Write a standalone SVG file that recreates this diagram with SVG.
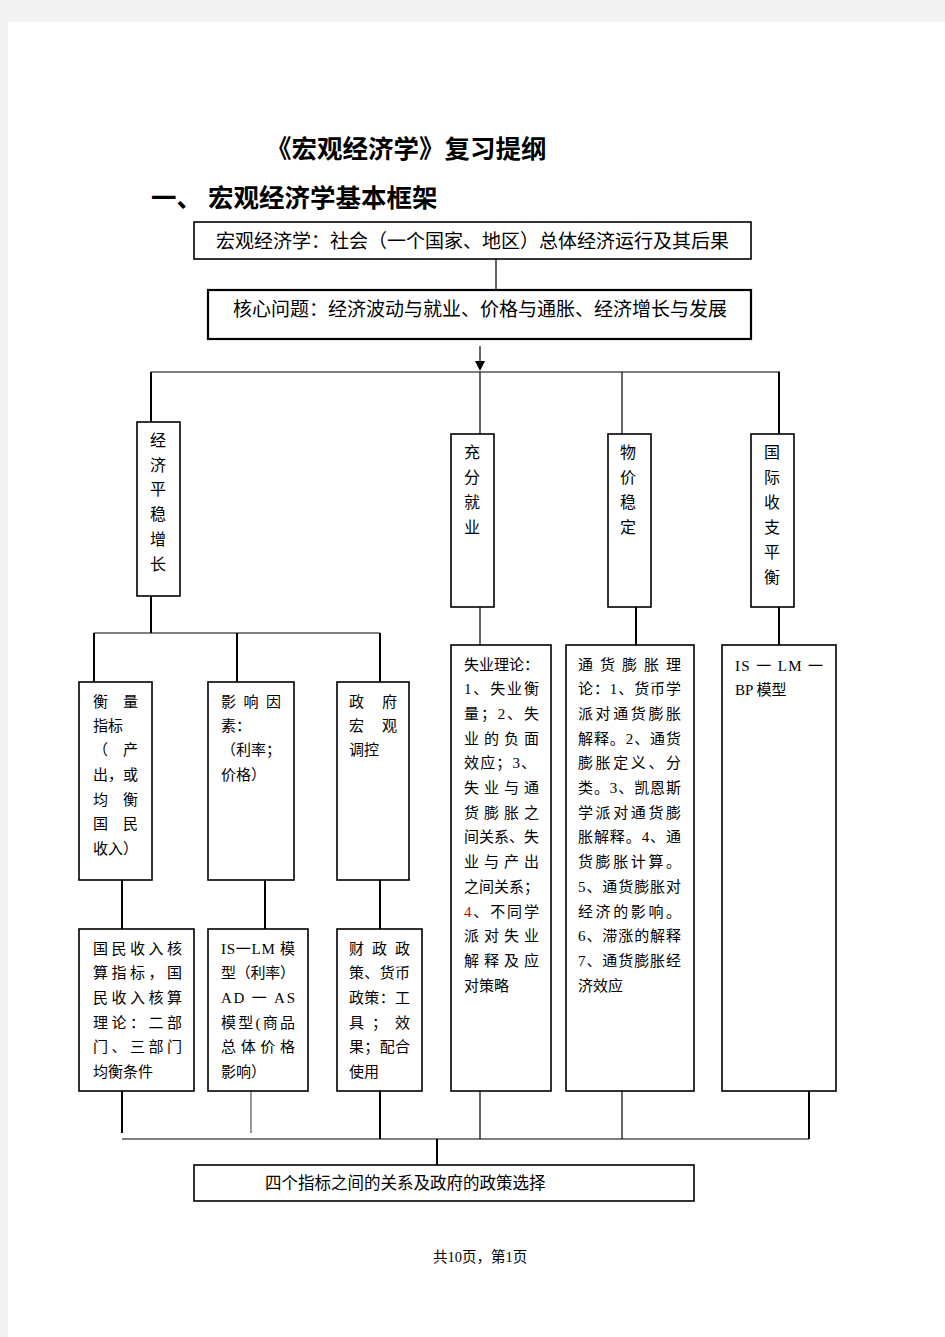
<svg xmlns="http://www.w3.org/2000/svg" width="945" height="1337" viewBox="0 0 945 1337">
<defs>
<style>
.box{fill:#fff;stroke:#000;stroke-width:1.6}
.box2{fill:#fff;stroke:#000;stroke-width:2.2}
.thick{stroke:#000;stroke-width:2;fill:none}
.thin{stroke:#000;stroke-width:1.2;fill:none}
.grey{stroke:#555;stroke-width:1.2;fill:none}
.t{font-family:"Liberation Serif","Noto Sans CJK SC",serif;fill:#000}
.h{font-family:"Liberation Serif","Noto Sans CJK SC",serif;font-weight:bold;fill:#000}
.s15{font-size:15px}
.s16{font-size:16px}
.s19{font-size:19px}
.v{font-size:16px;text-anchor:middle}
.red{fill:#c00000}
</style>
</defs>
<rect x="0" y="0" width="945" height="1337" fill="#f3f3f3"/>
<rect x="8" y="22" width="937" height="1315" fill="#fff"/>

<g id="titles">
<text class="h" x="266" y="158" font-size="25.5">《宏观经济学》复习提纲</text>
<text class="h" x="151" y="207" font-size="25.5">一、</text>
<text class="h" x="208" y="207" font-size="25.5">宏观经济学基本框架</text>
</g>

<g id="connectors">
<line class="thin" x1="496" y1="259" x2="496" y2="290"/>
<line class="thin" x1="480" y1="346" x2="480" y2="362"/>
<polygon points="475,361 485,361 480,371" fill="#000"/>
<line class="thin" x1="151" y1="372" x2="780" y2="372"/>
<line class="thick" x1="151" y1="372" x2="151" y2="422"/>
<line class="thin" x1="480" y1="372" x2="480" y2="434"/>
<line class="thin" x1="622" y1="372" x2="622" y2="434"/>
<line class="thick" x1="779" y1="372" x2="779" y2="434"/>
<line class="thick" x1="151" y1="596" x2="151" y2="633"/>
<line class="thin" x1="94" y1="633" x2="380" y2="633"/>
<line class="thick" x1="94" y1="633" x2="94" y2="682"/>
<line class="thick" x1="237" y1="633" x2="237" y2="682"/>
<line class="thick" x1="380" y1="633" x2="380" y2="682"/>
<line class="thick" x1="122" y1="880" x2="122" y2="929"/>
<line class="thick" x1="265" y1="880" x2="265" y2="929"/>
<line class="thick" x1="380" y1="880" x2="380" y2="929"/>
<line class="thin" x1="480" y1="607" x2="480" y2="645"/>
<line class="thick" x1="636" y1="607" x2="636" y2="645"/>
<line class="thick" x1="779" y1="607" x2="779" y2="645"/>
<line class="thick" x1="122" y1="1091" x2="122" y2="1133"/>
<line class="grey" x1="251" y1="1091" x2="251" y2="1133"/>
<line class="thick" x1="380" y1="1091" x2="380" y2="1139"/>
<line class="thin" x1="480" y1="1091" x2="480" y2="1139"/>
<line class="thin" x1="622" y1="1091" x2="622" y2="1139"/>
<line class="thick" x1="809" y1="1091" x2="809" y2="1139"/>
<line class="thin" x1="122" y1="1139" x2="809" y2="1139" stroke-width="1.6"/>
<line class="thick" x1="437" y1="1139" x2="437" y2="1165"/>
</g>

<g id="node-macro">
<rect class="box" x="194" y="222" width="557" height="37"/>
<text class="t s19" x="216" y="248">宏观经济学：社会（一个国家、地区）总体经济运行及其后果</text>
</g>

<g id="node-core">
<rect class="box2" x="208" y="290" width="543" height="49"/>
<text class="t s19" x="233" y="316">核心问题：经济波动与就业、价格与通胀、经济增长与发展</text>
</g>

<g id="node-growth">
<rect class="box" x="137" y="422" width="43" height="174"/>
<text class="t v" x="158" y="446">经</text>
<text class="t v" x="158" y="471">济</text>
<text class="t v" x="158" y="495">平</text>
<text class="t v" x="158" y="520">稳</text>
<text class="t v" x="158" y="545">增</text>
<text class="t v" x="158" y="570">长</text>
</g>

<g id="node-employment">
<rect class="box" x="451" y="434" width="43" height="173"/>
<text class="t v" x="472" y="458">充</text>
<text class="t v" x="472" y="483">分</text>
<text class="t v" x="472" y="508">就</text>
<text class="t v" x="472" y="533">业</text>
</g>

<g id="node-price">
<rect class="box" x="608" y="434" width="43" height="173"/>
<text class="t v" x="628" y="458">物</text>
<text class="t v" x="628" y="483">价</text>
<text class="t v" x="628" y="508">稳</text>
<text class="t v" x="628" y="533">定</text>
</g>

<g id="node-balance">
<rect class="box" x="751" y="434" width="43" height="173"/>
<text class="t v" x="772" y="458">国</text>
<text class="t v" x="772" y="483">际</text>
<text class="t v" x="772" y="508">收</text>
<text class="t v" x="772" y="533">支</text>
<text class="t v" x="772" y="558">平</text>
<text class="t v" x="772" y="583">衡</text>
</g>

<g id="node-measure">
<rect class="box" x="79" y="682" width="73" height="198"/>
<text class="t s15" x="93" y="707" textLength="45" lengthAdjust="spacing">衡量</text>
<text class="t s15" x="93" y="731">指标</text>
<text class="t s15" x="93" y="755" textLength="45" lengthAdjust="spacing">（产</text>
<text class="t s15" x="93" y="780" textLength="45" lengthAdjust="spacing">出，或</text>
<text class="t s15" x="93" y="805" textLength="45" lengthAdjust="spacing">均衡</text>
<text class="t s15" x="93" y="829" textLength="45" lengthAdjust="spacing">国民</text>
<text class="t s15" x="93" y="854">收入）</text>
</g>

<g id="node-factors">
<rect class="box" x="208" y="682" width="86" height="198"/>
<text class="t s15" x="221" y="707" textLength="60" lengthAdjust="spacing">影响因</text>
<text class="t s15" x="221" y="731">素：</text>
<text class="t s15" x="221" y="755">（利率；</text>
<text class="t s15" x="221" y="780">价格）</text>
</g>

<g id="node-govt">
<rect class="box" x="337" y="682" width="72" height="198"/>
<text class="t s15" x="349" y="707" textLength="48" lengthAdjust="spacing">政府</text>
<text class="t s15" x="349" y="731" textLength="48" lengthAdjust="spacing">宏观</text>
<text class="t s15" x="349" y="755">调控</text>
</g>

<g id="node-income">
<rect class="box" x="79" y="929" width="115" height="162"/>
<text class="t s15" x="93" y="954" textLength="89" lengthAdjust="spacing">国民收入核</text>
<text class="t s15" x="93" y="978" textLength="89" lengthAdjust="spacing">算指标，国</text>
<text class="t s15" x="93" y="1003" textLength="89" lengthAdjust="spacing">民收入核算</text>
<text class="t s15" x="93" y="1028" textLength="89" lengthAdjust="spacing">理论：二部</text>
<text class="t s15" x="93" y="1052" textLength="89" lengthAdjust="spacing">门、三部门</text>
<text class="t s15" x="93" y="1077">均衡条件</text>
</g>

<g id="node-islm">
<rect class="box" x="208" y="929" width="100" height="162"/>
<text class="t s15" x="221" y="954" textLength="74" lengthAdjust="spacing">IS一LM 模</text>
<text class="t s15" x="221" y="978" textLength="74" lengthAdjust="spacing">型（利率）</text>
<text class="t s15" x="221" y="1003" textLength="74" lengthAdjust="spacing">AD 一 AS</text>
<text class="t s15" x="221" y="1028" textLength="74" lengthAdjust="spacing">模型(商品</text>
<text class="t s15" x="221" y="1052" textLength="74" lengthAdjust="spacing">总体价格</text>
<text class="t s15" x="221" y="1077">影响）</text>
</g>

<g id="node-policy">
<rect class="box" x="337" y="929" width="85" height="162"/>
<text class="t s15" x="349" y="954" textLength="61" lengthAdjust="spacing">财政政</text>
<text class="t s15" x="349" y="978" textLength="61" lengthAdjust="spacing">策、货币</text>
<text class="t s15" x="349" y="1003" textLength="61" lengthAdjust="spacing">政策：工</text>
<text class="t s15" x="349" y="1028" textLength="61" lengthAdjust="spacing">具；效</text>
<text class="t s15" x="349" y="1052" textLength="61" lengthAdjust="spacing">果；配合</text>
<text class="t s15" x="349" y="1077">使用</text>
</g>

<g id="node-unemployment">
<rect class="box" x="451" y="645" width="100" height="446"/>
<text class="t s15" x="464" y="669.5" textLength="75" lengthAdjust="spacing">失业理论：</text>
<text class="t s15" x="464" y="694.2" textLength="75" lengthAdjust="spacing">1、失业衡</text>
<text class="t s15" x="464" y="718.9" textLength="75" lengthAdjust="spacing">量；2、失</text>
<text class="t s15" x="464" y="743.6" textLength="75" lengthAdjust="spacing">业的负面</text>
<text class="t s15" x="464" y="768.3" textLength="72" lengthAdjust="spacing">效应；3、</text>
<text class="t s15" x="464" y="793" textLength="75" lengthAdjust="spacing">失业与通</text>
<text class="t s15" x="464" y="817.7" textLength="75" lengthAdjust="spacing">货膨胀之</text>
<text class="t s15" x="464" y="842.4" textLength="75" lengthAdjust="spacing">间关系、失</text>
<text class="t s15" x="464" y="867.1" textLength="75" lengthAdjust="spacing">业与产出</text>
<text class="t s15" x="464" y="891.8" textLength="75" lengthAdjust="spacing">之间关系；</text>
<text class="t s15" x="464" y="916.5" textLength="75" lengthAdjust="spacing"><tspan class="red">4</tspan>、不同学</text>
<text class="t s15" x="464" y="941.2" textLength="75" lengthAdjust="spacing">派对失业</text>
<text class="t s15" x="464" y="965.9" textLength="75" lengthAdjust="spacing">解释及应</text>
<text class="t s15" x="464" y="990.6">对策略</text>
</g>

<g id="node-inflation">
<rect class="box" x="566" y="645" width="128" height="446"/>
<text class="t s15" x="578" y="669.5" textLength="103" lengthAdjust="spacing">通货膨胀理</text>
<text class="t s15" x="578" y="694.2" textLength="103" lengthAdjust="spacing">论：1、货币学</text>
<text class="t s15" x="578" y="718.9" textLength="103" lengthAdjust="spacing">派对通货膨胀</text>
<text class="t s15" x="578" y="743.6" textLength="103" lengthAdjust="spacing">解释。2、通货</text>
<text class="t s15" x="578" y="768.3" textLength="103" lengthAdjust="spacing">膨胀定义、分</text>
<text class="t s15" x="578" y="793" textLength="103" lengthAdjust="spacing">类。3、凯恩斯</text>
<text class="t s15" x="578" y="817.7" textLength="103" lengthAdjust="spacing">学派对通货膨</text>
<text class="t s15" x="578" y="842.4" textLength="103" lengthAdjust="spacing">胀解释。4、通</text>
<text class="t s15" x="578" y="867.1" textLength="103" lengthAdjust="spacing">货膨胀计算。</text>
<text class="t s15" x="578" y="891.8" textLength="103" lengthAdjust="spacing">5、通货膨胀对</text>
<text class="t s15" x="578" y="916.5" textLength="103" lengthAdjust="spacing">经济的影响。</text>
<text class="t s15" x="578" y="941.2" textLength="103" lengthAdjust="spacing">6、滞涨的解释</text>
<text class="t s15" x="578" y="965.9" textLength="103" lengthAdjust="spacing">7、通货膨胀经</text>
<text class="t s15" x="578" y="990.6">济效应</text>
</g>

<g id="node-islmbp">
<rect class="box" x="722" y="645" width="114" height="446"/>
<text class="t s15" x="735" y="671" textLength="88" lengthAdjust="spacing">IS 一 LM 一</text>
<text class="t s15" x="735" y="695">BP 模型</text>
</g>

<g id="node-relation">
<rect class="box" x="194" y="1165" width="500" height="36"/>
<text class="t" font-size="16.5" x="265" y="1189">四个指标之间的关系及政府的政策选择</text>
</g>

<g id="footer">
<text class="t" font-size="14.5" x="433" y="1262">共10页，第1页</text>
</g>
</svg>
